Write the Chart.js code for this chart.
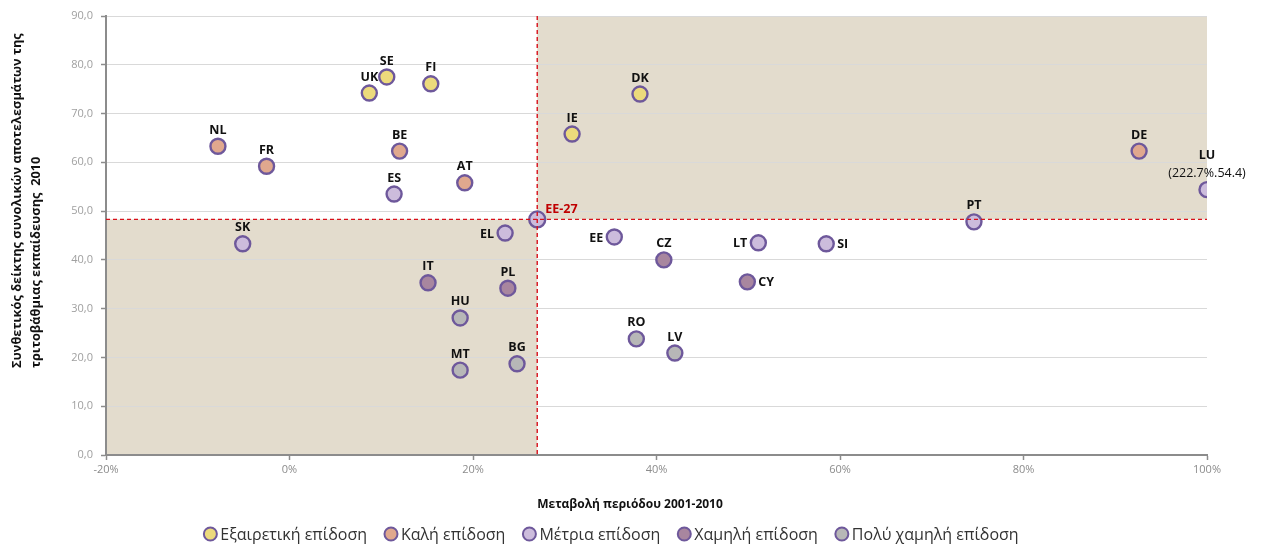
<!DOCTYPE html>
<html>
<head>
<meta charset="utf-8">
<script src="https://cdn.jsdelivr.net/npm/chart.js@4.4.0/dist/chart.umd.min.js"></script>
<style>
body { margin: 0; background: #fff; }
#wrap { width: 1264px; height: 544px; }
</style>
</head>
<body>
<div id="wrap"><canvas id="chart"></canvas></div>
<script>
// data
const countries = ['UK','SE','FI','DK','IE','NL','FR','BE','AT','DE','ES','LU','PT','SK','EL','EE','LT','SI','CZ','CY','IT','PL','HU','MT','BG','RO','LV'];
const change = [8.7,10.6,15.4,38.2,30.8,-7.8,-2.5,12.0,19.1,92.6,11.4,100,74.6,-5.1,23.5,35.4,51.1,58.5,40.8,49.9,15.1,23.8,18.6,18.6,24.8,37.8,42.0];
const score = [74.2,77.5,76.1,74.0,65.8,63.3,59.2,62.3,55.8,62.3,53.5,54.4,47.8,43.3,45.5,44.7,43.5,43.3,40.0,35.5,35.3,34.2,28.1,17.4,18.7,23.8,20.9];
const level = [0,0,0,0,0,1,1,1,1,1,2,2,2,2,2,2,2,2,3,3,3,3,4,4,4,4,4];
const levels = ['Εξαιρετική επίδοση','Καλή επίδοση','Μέτρια επίδοση','Χαμηλή επίδοση','Πολύ χαμηλή επίδοση'];
const euLabel = 'ΕΕ-27';
const euChange = 27.0;
const euScore = 48.3;
const luNote = '(222.7%.54.4)';

const levelColors = ['#ECDA7C','#E0A88E','#CCBCDC','#A8869F','#B7B7B7'];
const edge = '#6E589B';
const labelSide = { EL: 'left', EE: 'left', LT: 'left', CY: 'right', SI: 'right' };
const FONT = '"Open Sans"';

const datasets = levels.map((name, g) => ({
    label: name,
    data: countries.map((c, i) => ({ x: change[i], y: score[i], name: c })).filter((p, i) => level[i] === g),
    backgroundColor: levelColors[g], borderColor: edge, borderWidth: 2.4,
    pointRadius: 7.5, pointHoverRadius: 7.5
}));
datasets.push({
    label: euLabel,
    data: [{ x: euChange, y: euScore, name: euLabel }],
    backgroundColor: levelColors[2], borderColor: edge, borderWidth: 2.4,
    pointRadius: 8, pointHoverRadius: 8
});

const extras = {
    id: 'extras',
    beforeDraw(chart) {
        const { ctx, chartArea: a, scales: { x, y } } = chart;
        const px = x.getPixelForValue(euChange), py = y.getPixelForValue(euScore);
        ctx.save();
        ctx.fillStyle = '#E3DCCD';
        ctx.fillRect(px, a.top, a.right - px, py - a.top);
        ctx.fillRect(a.left, py, px - a.left, a.bottom - py);
        ctx.restore();
    },
    afterDatasetsDraw(chart) {
        const { ctx, chartArea: a, scales: { x, y } } = chart;
        const px = x.getPixelForValue(euChange), py = y.getPixelForValue(euScore);
        ctx.save();
        ctx.strokeStyle = '#D8101A'; ctx.lineWidth = 1.4; ctx.setLineDash([4, 3]);
        ctx.beginPath();
        ctx.moveTo(a.left, py); ctx.lineTo(a.right, py);
        ctx.moveTo(px, a.top); ctx.lineTo(px, a.bottom);
        ctx.stroke();
        ctx.setLineDash([]);

        // point labels
        ctx.font = 'bold 12.5px ' + FONT;
        ctx.fillStyle = '#111';
        chart.data.datasets.forEach((ds, di) => {
            const meta = chart.getDatasetMeta(di);
            ds.data.forEach((p, j) => {
                const el = meta.data[j];
                const side = labelSide[p.name] || 'top';
                if (p.name === euLabel) {
                    ctx.fillStyle = '#C00000'; ctx.textAlign = 'left'; ctx.textBaseline = 'middle';
                    ctx.fillText(p.name, el.x + 8, el.y - 10);
                    ctx.fillStyle = '#111';
                    return;
                }
                if (side === 'left') {
                    ctx.textAlign = 'right'; ctx.textBaseline = 'middle';
                    ctx.fillText(p.name, el.x - 11, el.y + 1);
                } else if (side === 'right') {
                    ctx.textAlign = 'left'; ctx.textBaseline = 'middle';
                    ctx.fillText(p.name, el.x + 11, el.y + 1);
                } else {
                    ctx.textAlign = 'center'; ctx.textBaseline = 'middle';
                    if (p.name === 'LU') {
                        ctx.fillText(p.name, el.x, el.y - 34);
                        ctx.font = '12.5px ' + FONT;
                        ctx.fillText(luNote, el.x, el.y - 16);
                        ctx.font = 'bold 12.5px ' + FONT;
                    } else {
                        ctx.fillText(p.name, el.x, el.y - 16);
                    }
                }
            });
        });

        // axis titles
        ctx.fillStyle = '#111';
        ctx.font = 'bold 12px ' + FONT;
        ctx.textAlign = 'center'; ctx.textBaseline = 'middle';
        ctx.fillText('Μεταβολή περιόδου 2001-2010', 630, 505);
        ctx.save();
        ctx.font = 'bold 12.8px ' + FONT;
        ctx.translate(0, 368);
        ctx.rotate(-Math.PI / 2);
        ctx.textAlign = 'left';
        ctx.fillText('Συνθετικός δείκτης συνολικών αποτελεσμάτων της', 0, 17);
        ctx.fillText('τριτοβάθμιας εκπαίδευσης  2010', 0, 36);
        ctx.restore();

        // legend
        ctx.font = '16px ' + FONT;
        ctx.textAlign = 'left';
        const widths = levels.map(t => ctx.measureText(t).width);
        const total = widths.reduce((s, w) => s + 17 + w, 0) + 17 * (levels.length - 1);
        let lx = 611 - total / 2;
        const ly = 534;
        levels.forEach((t, g) => {
            ctx.beginPath();
            ctx.arc(lx + 7, ly, 6.5, 0, Math.PI * 2);
            ctx.fillStyle = levelColors[g]; ctx.fill();
            ctx.lineWidth = 2; ctx.strokeStyle = edge; ctx.stroke();
            ctx.fillStyle = '#333';
            ctx.fillText(t, lx + 17, ly + 1);
            lx += 17 + widths[g] + 17;
        });
        ctx.restore();
    }
};

new Chart(document.getElementById('chart'), {
    type: 'scatter',
    data: { datasets },
    plugins: [extras],
    options: {
        responsive: true, maintainAspectRatio: false, animation: false,
        layout: { padding: { top: 16, right: 57, left: 0, bottom: 0 } },
        plugins: {
            tooltip: { enabled: false },
            legend: { display: false }
        },
        scales: {
            x: {
                type: 'linear', min: -20, max: 100,
                afterFit: s => { s.height = 89; },
                border: { color: '#8C8C8C', width: 2 },
                grid: { drawOnChartArea: false, drawTicks: true, tickLength: 5, tickColor: '#8C8C8C', tickWidth: 1.5 },
                ticks: { stepSize: 20, callback: v => v + '%', color: '#8C8C8C', padding: 3, font: { family: 'Open Sans', size: 11 } }
            },
            y: {
                min: 0, max: 90,
                afterFit: s => { s.width = 106; },
                border: { color: '#8C8C8C', width: 2 },
                grid: { color: '#D9D9D9', lineWidth: 1, tickLength: 5, tickColor: '#8C8C8C', tickWidth: 1.5 },
                ticks: { stepSize: 10, callback: v => v.toFixed(1).replace('.', ','), color: '#A0A0A0', padding: 8, font: { family: 'Open Sans', size: 11 } }
            }
        }
    }
});
</script>
</body>
</html>
